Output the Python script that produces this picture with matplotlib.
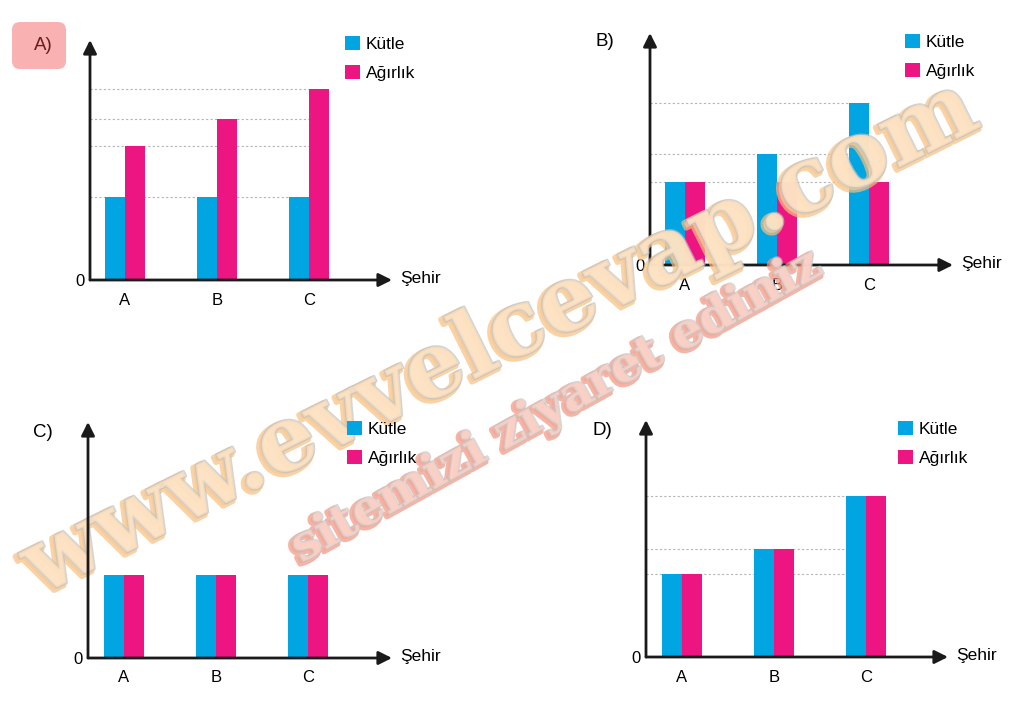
import numpy as np
import matplotlib
matplotlib.use('Agg')
import matplotlib.pyplot as plt
from matplotlib import patheffects as pe
from matplotlib.patches import FancyBboxPatch
from matplotlib.transforms import IdentityTransform

plt.rcParams['font.family'] = ['Liberation Sans', 'DejaVu Sans']

# veriler (birim: kütle / ağırlık, keyfi ölçek)
cities = ['A', 'B', 'C']
kutle_a = [3, 3, 3]
agirlik_a = [4.85, 5.8, 6.9]
kutle_b = [3, 4, 5.85]
agirlik_b = [3, 3, 3]
kutle_c = [3, 3, 3]
agirlik_c = [3, 3, 3]
kutle_d = [3, 3.9, 5.8]
agirlik_d = [3, 3.9, 5.8]

BLUE = '#00a5e2'
PINK = '#ec1582'
W, H = 1025, 721
PX_Y = 27.7   # dikey: piksel / birim
PX_X = 92     # şehirler arası piksel
BAR_W = 0.217

fig = plt.figure(figsize=(W / 100, H / 100), dpi=100)


def panel(ox, oy, xt, yt, c0, kutle, agirlik, leg_xy, grid=True):
    # ox, oy: orijin; xt, yt: ok uçları; c0: ilk şehir merkezi (piksel)
    ax = fig.add_axes([ox / W, 1 - oy / H, (xt - ox) / W, (oy - yt) / H])
    ax.set_xlim(-(c0 - ox) / PX_X, (xt - c0) / PX_X)
    ax.set_ylim(0, (oy - yt) / PX_Y)
    ax.patch.set_alpha(0)
    x = np.arange(len(cities))
    b1 = ax.bar(x - BAR_W / 2, kutle, BAR_W, color=BLUE, label='Kütle', zorder=3)
    b2 = ax.bar(x + BAR_W / 2, agirlik, BAR_W, color=PINK, label='Ağırlık', zorder=3)
    if grid:
        for v in sorted(set(kutle) | set(agirlik)):
            ax.plot([ax.get_xlim()[0], x[-1]], [v, v], ls=(0, (2, 2)),
                    color='#b5b5b5', lw=0.8, zorder=1)
    for s in ax.spines.values():
        s.set_visible(False)
    ax.set_xticks(x, cities)
    ax.set_yticks([0], ['0'])
    ax.tick_params(length=0, labelsize=12)
    ax.tick_params(axis='x', pad=9)
    ax.tick_params(axis='y', pad=4)
    ok = dict(arrowstyle='-|>', color='#1a1a1a', lw=2, mutation_scale=20,
              shrinkA=0, shrinkB=0)
    ax.annotate('', xy=(1, 0), xytext=(0, 0), xycoords='axes fraction',
                arrowprops=ok, annotation_clip=False)
    ax.annotate('', xy=(0, 1), xytext=(0, 0), xycoords='axes fraction',
                arrowprops=ok, annotation_clip=False)
    ax.annotate('Şehir', xy=(1, 0), xycoords='axes fraction', xytext=(6, 1),
                textcoords='offset points', va='center', ha='left', fontsize=12.5)
    ax.legend(handles=[b1, b2], loc='upper left',
              bbox_to_anchor=(leg_xy[0] / W, 1 - leg_xy[1] / H),
              bbox_transform=fig.transFigure, frameon=False, fontsize=12.5,
              handlelength=0.85, handleheight=0.85, handletextpad=0.35,
              labelspacing=0.75, borderpad=0, borderaxespad=0)
    return ax


panel(90, 280, 392, 40, 125, kutle_a, agirlik_a, (345, 36))
panel(650, 265, 953, 33, 685, kutle_b, agirlik_b, (905, 34))
ax_c = panel(88, 658, 392, 422, 124, kutle_c, agirlik_c, (347, 421), grid=False)
ax_c.set_zorder(11)  # C paneli filigranın üstünde
panel(646, 657, 948, 420, 682, kutle_d, agirlik_d, (898, 421))

# şık etiketleri
kutu = FancyBboxPatch((12, H - 69), 54, 47, boxstyle='round,pad=0,rounding_size=8',
                      transform=IdentityTransform(), facecolor='#f9b1b1',
                      edgecolor='none')
fig.patches.append(kutu)
fig.text(43 / W, 1 - 46 / H, 'A)', ha='center', va='center', fontsize=13.5, color='#6b1c1c')
fig.text(605 / W, 1 - 42 / H, 'B)', ha='center', va='center', fontsize=13.5)
fig.text(43 / W, 1 - 433 / H, 'C)', ha='center', va='center', fontsize=13.5)
fig.text(602 / W, 1 - 431 / H, 'D)', ha='center', va='center', fontsize=13.5)

# filigran
fig.text(500 / W, 1 - 338 / H, 'www.evvelcevap.com', rotation=26.5, rotation_mode='anchor',
         ha='center', va='center', fontsize=66, fontweight='bold', family='DejaVu Serif',
         color='#fde3c3', alpha=0.7, zorder=10,
         path_effects=[pe.Stroke(linewidth=4, foreground='#f7c081', offset=(-2, -2)),
                       pe.Stroke(linewidth=2, foreground='#c2c2c2'), pe.Normal()])
fig.text(557 / W, 1 - 406 / H, 'sitemizi ziyaret ediniz', rotation=29, rotation_mode='anchor',
         ha='center', va='center', fontsize=35, fontweight='bold', family='DejaVu Serif',
         color='#fcd3c8', alpha=0.7, zorder=10,
         path_effects=[pe.Stroke(linewidth=4, foreground='#f2947f', offset=(-2, -2)),
                       pe.Stroke(linewidth=2, foreground='#c8c8c8'), pe.Normal()])

fig.savefig('out.png', dpi=100)
